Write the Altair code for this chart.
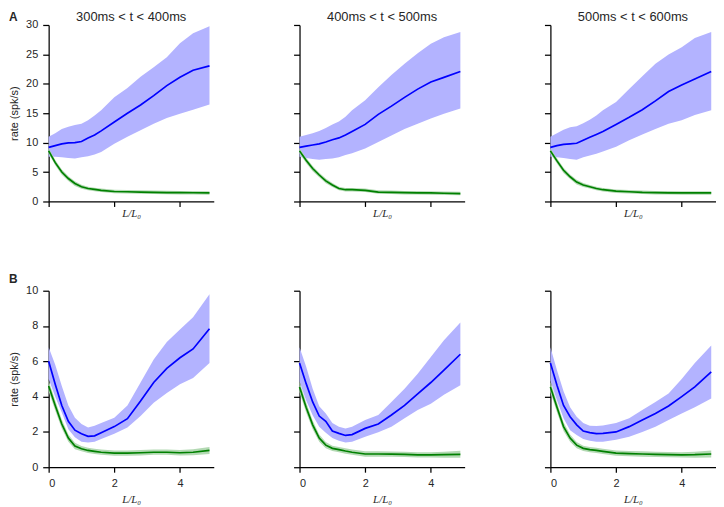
import altair as alt
import pandas as pd

# Shared x grid (L/L0)
L = [0, 0.2, 0.4, 0.6, 0.8, 1.0, 1.2, 1.4, 1.6, 2.0, 2.4, 2.8, 3.2, 3.6, 4.0, 4.4, 4.9]

titles = ["300ms < t < 400ms", "400ms < t < 500ms", "500ms < t < 600ms"]
row_labels = ["A", "B"]

# Row A (y 0..30)
a1_blue = [9.2, 9.5, 9.8, 9.95, 10.0, 10.2, 10.8, 11.3, 12.0, 13.5, 15.0, 16.4, 18.0, 19.7, 21.1, 22.3, 23.05]
a1_hi = [11.0, 11.6, 12.3, 12.7, 13.0, 13.2, 13.8, 14.6, 15.5, 17.7, 19.3, 21.2, 22.8, 24.5, 26.9, 28.6, 29.8]
a1_lo = [7.6, 7.6, 7.5, 7.4, 7.3, 7.5, 7.7, 8.0, 8.4, 9.8, 11.0, 12.1, 13.2, 14.2, 14.9, 15.6, 16.5]
a1_green = [8.6, 6.6, 5.0, 3.9, 3.05, 2.5, 2.2, 2.05, 1.9, 1.7, 1.65, 1.6, 1.55, 1.52, 1.5, 1.48, 1.45]

a2_blue = [9.2, 9.4, 9.6, 9.8, 10.1, 10.5, 10.8, 11.3, 11.9, 13.1, 14.8, 16.2, 17.7, 19.1, 20.3, 21.1, 22.1]
a2_hi = [11.0, 11.3, 11.6, 12.0, 12.5, 13.1, 13.6, 14.4, 15.5, 17.2, 19.4, 21.5, 23.4, 25.2, 26.8, 27.9, 28.8]
a2_lo = [7.6, 7.4, 7.2, 7.1, 7.2, 7.3, 7.5, 7.9, 8.2, 9.0, 10.1, 11.2, 12.3, 13.2, 14.1, 14.9, 15.8]
a2_green = [8.6, 7.0, 5.6, 4.5, 3.5, 2.8, 2.2, 2.0, 2.0, 1.9, 1.6, 1.55, 1.5, 1.47, 1.45, 1.4, 1.35]

a3_blue = [9.2, 9.5, 9.7, 9.8, 9.9, 10.4, 10.9, 11.4, 11.9, 13.1, 14.3, 15.6, 17.1, 18.7, 19.8, 20.8, 22.1]
a3_hi = [11.0, 11.6, 12.2, 12.6, 12.8, 13.3, 13.9, 14.6, 15.5, 16.9, 19.1, 21.3, 23.4, 25.0, 26.2, 27.8, 28.8]
a3_lo = [7.6, 7.5, 7.4, 7.2, 7.1, 7.5, 7.8, 8.1, 8.5, 9.3, 10.4, 11.4, 12.3, 13.2, 13.8, 14.7, 15.5]
a3_green = [8.6, 6.9, 5.3, 4.2, 3.3, 2.8, 2.5, 2.2, 2.0, 1.75, 1.65, 1.55, 1.5, 1.47, 1.45, 1.45, 1.45]

gerr_a = [0.45, 0.45, 0.45, 0.4, 0.4, 0.35, 0.3, 0.3, 0.3, 0.3, 0.3, 0.3, 0.3, 0.3, 0.3, 0.3, 0.3]

# Row B (y 0..10)
b1_blue = [6.0, 4.7, 3.5, 2.6, 2.1, 1.9, 1.75, 1.78, 1.95, 2.3, 2.75, 3.75, 4.8, 5.6, 6.2, 6.7, 7.85]
b1_hi = [6.8, 5.8, 4.6, 3.5, 2.8, 2.45, 2.25, 2.35, 2.5, 2.8, 3.5, 4.8, 6.1, 7.1, 7.8, 8.5, 9.8]
b1_lo = [5.0, 4.0, 3.1, 2.15, 1.7, 1.45, 1.4, 1.45, 1.6, 1.9, 2.25, 2.9, 3.65, 4.2, 4.7, 5.05, 5.9]
b1_green = [4.6, 3.5, 2.45, 1.65, 1.2, 1.05, 0.95, 0.9, 0.85, 0.8, 0.8, 0.82, 0.85, 0.85, 0.82, 0.85, 0.95]

b2_blue = [5.9, 4.75, 3.7, 2.9, 2.6, 2.05, 1.92, 1.8, 1.85, 2.2, 2.45, 2.96, 3.5, 4.15, 4.8, 5.5, 6.4]
b2_hi = [6.8, 5.7, 4.45, 3.45, 3.05, 2.5, 2.3, 2.2, 2.3, 2.67, 2.96, 3.7, 4.45, 5.3, 6.25, 7.2, 8.2]
b2_lo = [4.85, 3.8, 2.95, 2.3, 1.95, 1.65, 1.5, 1.4, 1.45, 1.73, 1.98, 2.3, 2.77, 3.24, 3.6, 4.1, 4.65]
b2_green = [4.55, 3.4, 2.4, 1.65, 1.25, 1.07, 1.0, 0.92, 0.85, 0.75, 0.75, 0.74, 0.73, 0.7, 0.7, 0.71, 0.73]

b3_blue = [5.9, 4.65, 3.5, 2.86, 2.4, 2.05, 1.96, 1.9, 1.92, 2.0, 2.3, 2.67, 3.05, 3.47, 4.0, 4.55, 5.4]
b3_hi = [6.8, 5.5, 4.3, 3.4, 2.86, 2.5, 2.35, 2.33, 2.36, 2.5, 2.77, 3.24, 3.7, 4.18, 5.0, 5.9, 6.9]
b3_lo = [4.9, 3.8, 2.77, 2.1, 1.83, 1.6, 1.5, 1.45, 1.45, 1.55, 1.73, 2.0, 2.3, 2.67, 3.05, 3.4, 3.9]
b3_green = [4.55, 3.4, 2.3, 1.65, 1.25, 1.07, 1.0, 0.95, 0.9, 0.8, 0.77, 0.75, 0.73, 0.71, 0.7, 0.71, 0.75]

gerr_b = [0.3, 0.28, 0.25, 0.2, 0.18, 0.15, 0.15, 0.15, 0.15, 0.15, 0.15, 0.15, 0.15, 0.15, 0.15, 0.17, 0.2]

rows = [
    [(a1_blue, a1_lo, a1_hi, a1_green), (a2_blue, a2_lo, a2_hi, a2_green), (a3_blue, a3_lo, a3_hi, a3_green)],
    [(b1_blue, b1_lo, b1_hi, b1_green), (b2_blue, b2_lo, b2_hi, b2_green), (b3_blue, b3_lo, b3_hi, b3_green)],
]
gerrs = [gerr_a, gerr_b]
ymaxes = [30, 10]
ysteps = [5, 2]

W, H = 166.5, 178
BLUE = "#0000ff"
BLUE_BAND = "#b3b3ff"
GREEN = "#008000"
GREEN_BAND = "#b3d9b3"
TXT = "#262626"


def panel(r, c):
    blue, lo, hi, green = rows[r][c]
    ge = gerrs[r]
    df = pd.DataFrame({
        "L": L, "blue": blue, "lo": lo, "hi": hi, "green": green,
        "glo": [g - e for g, e in zip(green, ge)],
        "ghi": [g + e for g, e in zip(green, ge)],
    })
    ymax = ymaxes[r]
    yvals = list(range(0, ymax + 1, ysteps[r]))
    xscale = alt.Scale(domain=[0, 5.03], nice=False, zero=False)
    yscale = alt.Scale(domain=[0, ymax], nice=False)

    xaxis = alt.Axis(values=[0, 2, 4], labels=(r == 1), labelPadding=5, tickSize=5,
                     labelOverlap=False,
                     titleFont="Liberation Serif", titleFontStyle="italic",
                     titleFontSize=11, titleFontWeight="normal", titleColor=TXT,
                     titlePadding=(1 if r == 0 else 6))
    if c == 0:
        yaxis = alt.Axis(values=yvals, tickCount=len(yvals), labels=True, labelPadding=5,
                         tickSize=6, labelOverlap=False,
                         titleFont="Liberation Sans", titleFontSize=11,
                         titleFontWeight="normal", titleColor=TXT,
                         titleX=-29, titleY=H / 2)
        ytitle = "rate (spk/s)"
    else:
        yaxis = alt.Axis(values=yvals, tickCount=len(yvals), labels=False, tickSize=6,
                         labelOverlap=False)
        ytitle = None

    base = alt.Chart(df)
    x = alt.X("L:Q", scale=xscale, axis=xaxis, title="L/L₀")

    def yenc(field):
        return alt.Y(field, type="quantitative", scale=yscale, axis=yaxis, title=ytitle)

    band = base.mark_area(color=BLUE_BAND, opacity=1).encode(x=x, y=yenc("lo"), y2="hi:Q")
    gband = base.mark_area(color=GREEN_BAND, opacity=1).encode(x=x, y=yenc("glo"), y2="ghi:Q")
    bline = base.mark_line(color=BLUE, strokeWidth=1.7).encode(x=x, y=yenc("blue"))
    gline = base.mark_line(color=GREEN, strokeWidth=1.7).encode(x=x, y=yenc("green"))
    layers = [band, gband, bline, gline]
    if r == 0:
        ttl = alt.Chart(pd.DataFrame({"t": [titles[c]]})).mark_text(
            font="Liberation Sans", fontSize=13, color=TXT,
            align="center", baseline="middle").encode(
            x=alt.value(W / 2), y=alt.value(-8), text="t:N")
        layers.append(ttl)
    if c == 0:
        lab = alt.Chart(pd.DataFrame({"t": [row_labels[r]]})).mark_text(
            font="Liberation Sans", fontSize=12, fontWeight="bold", color=TXT,
            align="left", baseline="middle").encode(
            x=alt.value(-40), y=alt.value(-8 if r == 0 else -12), text="t:N")
        layers.append(lab)
    return alt.layer(*layers).properties(width=W, height=H)


rowA = alt.hconcat(*[panel(0, c) for c in range(3)], spacing=78)
rowB = alt.hconcat(*[panel(1, c) for c in range(3)], spacing=78)

chart = alt.vconcat(rowA, rowB, spacing=52).properties(padding=0).configure_axis(
    domainColor="black", domainWidth=1.25, tickColor="black", tickWidth=1.25,
    labelFont="Liberation Sans", labelFontSize=11, labelColor=TXT,
    labelOverlap=False, grid=False
).configure_view(stroke="transparent")

chart.save("out.html", embed_options={"renderer": "svg", "actions": False})
